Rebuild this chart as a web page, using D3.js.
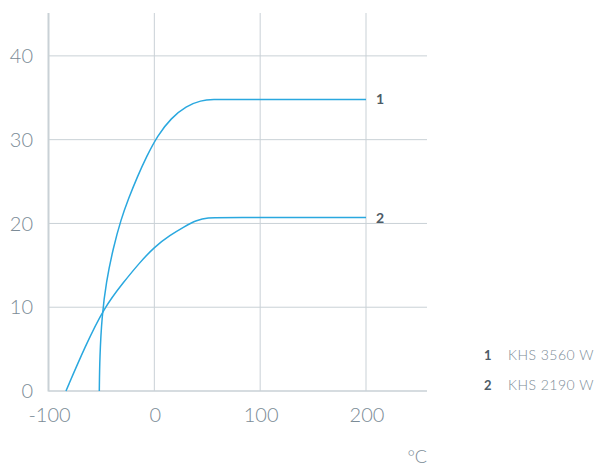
<!DOCTYPE html>
<html>
<head>
<meta charset="utf-8">
<script src="https://cdn.jsdelivr.net/npm/d3@7"></script>
<style>
  body { margin: 0; background: #fff; }
  svg { font-family: Lato, "Open Sans", sans-serif; }
</style>
</head>
<body>
<script>
// temperature (°C) vs output
const xTicks = [-100, 0, 100, 200]
const yTicks = [0, 10, 20, 30, 40]
const seriesNames = ['KHS 3560 W', 'KHS 2190 W']
const series1 = [[-52, 0], [-51.6, 4], [-49.5, 9], [-45.5, 13], [-39, 17], [-31.5, 20.5], [-24.3, 23],
  [-16.3, 25.5], [-7.3, 28], [3, 30.5], [16, 32.6], [30, 34], [44, 34.7], [56, 34.8], [70, 34.8], [200, 34.8]]
const series2 = [[-83.5, 0], [-65.5, 5.3], [-47.3, 10], [-29, 13], [-14, 15.3], [0, 17.2],
  [15, 18.6], [28, 19.6], [40, 20.4], [51, 20.7], [62, 20.7], [200, 20.7]]

const width = 596, height = 468
const gridColor = '#c9d1d6'
const lineColor = '#2aa8df'
const textColor = '#7b8b96'

const svg = d3.select('body').append('svg')
  .attr('width', width)
  .attr('height', height)

const x = d3.scaleLinear().domain([-100, 200]).range([48.5, 366])
const y = d3.scaleLinear().domain([0, 45]).range([391, 14])
const xEnd = 427

// vertical grid
svg.append('g').selectAll('line')
  .data(xTicks.slice(1))
  .join('line')
  .attr('x1', d => x(d)).attr('x2', d => x(d))
  .attr('y1', y(45) - 1).attr('y2', y(0))
  .attr('stroke', gridColor).attr('stroke-width', 1)

// horizontal grid
svg.append('g').selectAll('line')
  .data(yTicks)
  .join('line')
  .attr('x1', x(-100)).attr('x2', xEnd)
  .attr('y1', d => y(d)).attr('y2', d => y(d))
  .attr('stroke', gridColor).attr('stroke-width', d => d === 0 ? 1.5 : 1)

// left axis line
svg.append('line')
  .attr('x1', x(-100)).attr('x2', x(-100))
  .attr('y1', y(45) - 1).attr('y2', y(0) + 0.5)
  .attr('stroke', gridColor).attr('stroke-width', 2)

// tick labels
svg.append('g').selectAll('text')
  .data(yTicks)
  .join('text')
  .attr('x', 33).attr('y', d => y(d))
  .attr('dy', '0.36em')
  .attr('text-anchor', 'end')
  .attr('font-size', 20).attr('font-weight', 300)
  .attr('fill', textColor)
  .text(d => d)

svg.append('g').selectAll('text')
  .data(xTicks)
  .join('text')
  .attr('x', d => x(d) + 1).attr('y', 415)
  .attr('dy', '0.36em')
  .attr('text-anchor', 'middle')
  .attr('font-size', 20).attr('font-weight', 300)
  .attr('fill', textColor)
  .text(d => d)

svg.append('text')
  .attr('x', 427).attr('y', 457)
  .attr('dy', '0.36em')
  .attr('text-anchor', 'end')
  .attr('font-size', 18).attr('font-weight', 300)
  .attr('fill', textColor)
  .text('°C')

// curves
const line = d3.line()
  .x(d => x(d[0]))
  .y(d => y(d[1]))
  .curve(d3.curveBasis)

const allSeries = [series1, series2]
svg.append('g').selectAll('path')
  .data(allSeries)
  .join('path')
  .attr('d', line)
  .attr('fill', 'none')
  .attr('stroke', lineColor)
  .attr('stroke-width', 1.5)

// end labels
svg.append('g').selectAll('text')
  .data(allSeries)
  .join('text')
  .attr('x', x(200) + 10)
  .attr('y', d => y(d[d.length - 1][1]))
  .attr('dy', '0.36em')
  .attr('font-size', 14).attr('font-weight', 700)
  .attr('fill', '#4d5b66')
  .text((d, i) => i + 1)

// legend
const legend = svg.append('g').selectAll('g')
  .data(seriesNames)
  .join('g')
  .attr('transform', (d, i) => `translate(484, ${355 + i * 30})`)

legend.append('text')
  .attr('dy', '0.36em')
  .attr('font-size', 13).attr('font-weight', 700)
  .attr('fill', '#4d5b66')
  .text((d, i) => i + 1)

legend.append('text')
  .attr('x', 24)
  .attr('dy', '0.36em')
  .attr('font-size', 14).attr('font-weight', 300)
  .attr('letter-spacing', 0.5)
  .attr('fill', textColor)
  .text(d => d)
</script>
</body>
</html>
